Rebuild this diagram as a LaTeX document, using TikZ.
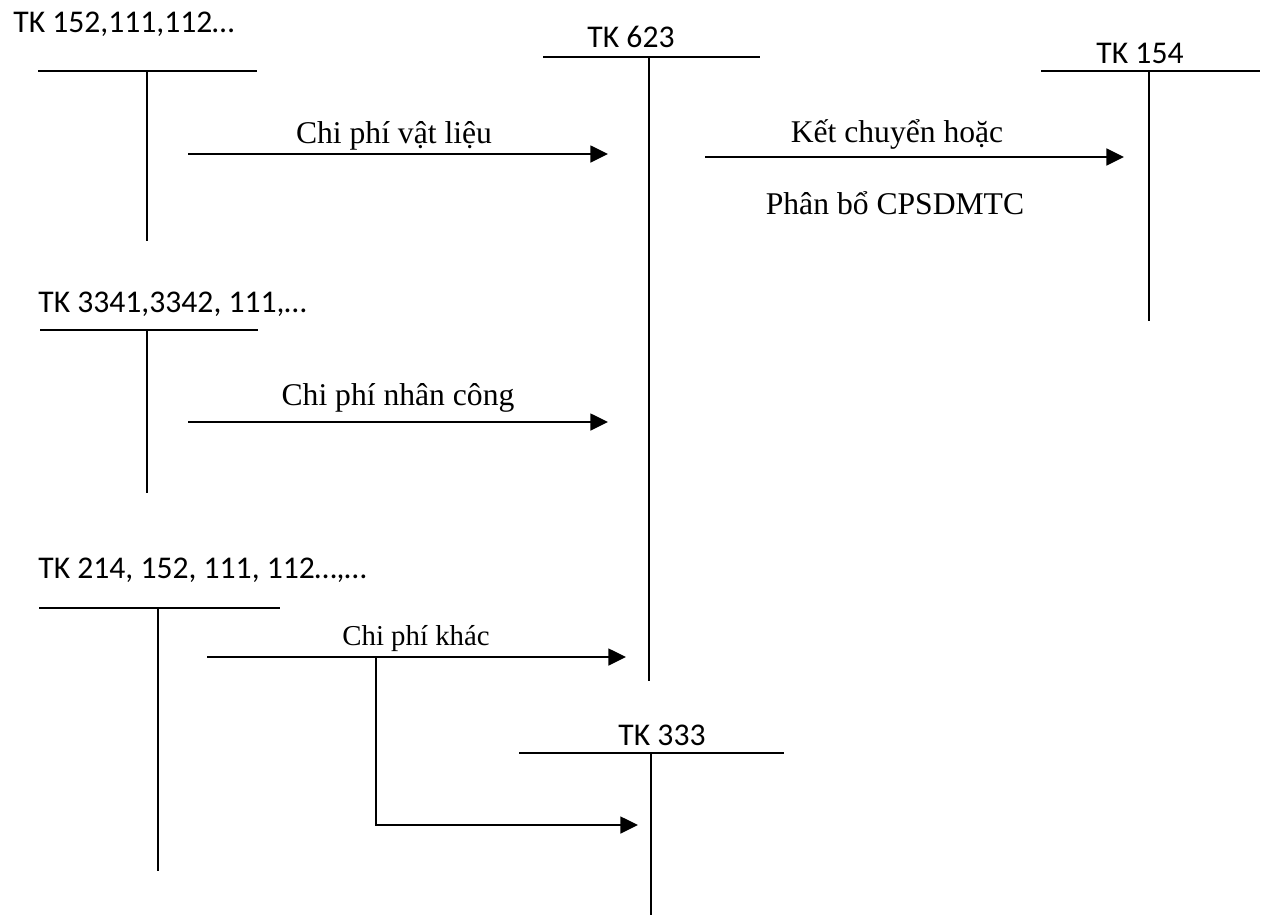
\documentclass[tikz,border=0pt]{standalone}
\usepackage{fontspec}
\setmainfont{Liberation Serif}
\newfontfamily\acfont{Carlito}
\usetikzlibrary{arrows.meta}
\begin{document}
\begin{tikzpicture}[x=0.02cm,y=-0.02cm,
  acct/.style={line width=0.8pt},
  flow/.style={line width=1.3pt,-{Triangle[length=10pt,width=9.5pt]}},
  aclabel/.style={font=\acfont\fontsize{18}{21}\selectfont,inner sep=0pt,anchor=base},
  flabel/.style={font=\fontsize{18}{21}\selectfont,inner sep=0pt,anchor=base}]
\useasboundingbox (0,0) rectangle (1266,917);
% T-account TK 152
\node[aclabel,anchor=base west] (l152) at (13,32) {TK 152,111,112…};
\coordinate (a152l) at (38,71); \coordinate (a152r) at (257,71);
\coordinate (a152t) at (147,71); \coordinate (a152b) at (147,241);
\draw[acct] (a152l) -- (a152r); \draw[acct] (a152t) -- (a152b);
% TK 623
\node[aclabel] (l623) at (631,47) {TK 623};
\coordinate (a623l) at (543,57); \coordinate (a623r) at (760,57);
\coordinate (a623t) at (649,57); \coordinate (a623b) at (649,681);
\draw[acct] (a623l) -- (a623r); \draw[acct] (a623t) -- (a623b);
% TK 154
\node[aclabel] (l154) at (1140,63) {TK 154};
\coordinate (a154l) at (1041,71); \coordinate (a154r) at (1260,71);
\coordinate (a154t) at (1149,71); \coordinate (a154b) at (1149,321);
\draw[acct] (a154l) -- (a154r); \draw[acct] (a154t) -- (a154b);
% TK 3341
\node[aclabel,anchor=base west] (l334) at (38,312) {TK 3341,3342, 111,…};
\coordinate (a334l) at (40,330); \coordinate (a334r) at (258,330);
\coordinate (a334t) at (147,330); \coordinate (a334b) at (147,493);
\draw[acct] (a334l) -- (a334r); \draw[acct] (a334t) -- (a334b);
% TK 214
\node[aclabel,anchor=base west] (l214) at (38,578) {TK 214, 152, 111, 112…,…};
\coordinate (a214l) at (39,608); \coordinate (a214r) at (280,608);
\coordinate (a214t) at (158,608); \coordinate (a214b) at (158,871);
\draw[acct] (a214l) -- (a214r); \draw[acct] (a214t) -- (a214b);
% TK 333
\node[aclabel] (l333) at (662,745) {TK 333};
\coordinate (a333l) at (519,753); \coordinate (a333r) at (784,753);
\coordinate (a333t) at (651,753); \coordinate (a333b) at (651,915);
\draw[acct] (a333l) -- (a333r); \draw[acct] (a333t) -- (a333b);
% flows
\coordinate (f1s) at (188,154); \coordinate (f1e) at (608,154);
\draw[flow] (f1s) -- (f1e);
\node[flabel] (t1) at (394,143) {Chi phí vật liệu};
\coordinate (f2s) at (705,157); \coordinate (f2e) at (1124,157);
\draw[flow] (f2s) -- (f2e);
\node[flabel] (t2) at (897,142) {Kết chuyển hoặc};
\node[flabel] (t2b) at (895,214) {Phân bổ CPSDMTC};
\coordinate (f3s) at (188,422); \coordinate (f3e) at (608,422);
\draw[flow] (f3s) -- (f3e);
\node[flabel] (t3) at (398,405) {Chi phí nhân công};
\coordinate (f4s) at (207,657); \coordinate (f4e) at (626,657);
\draw[flow] (f4s) -- (f4e);
\node[flabel,font=\fontsize{16.4}{19}\selectfont] (t4) at (416,645) {Chi phí khác};
\coordinate (f5s) at (376,657); \coordinate (f5e) at (638,825);
\draw[flow] (f5s) |- (f5e);
\end{tikzpicture}
\end{document}
